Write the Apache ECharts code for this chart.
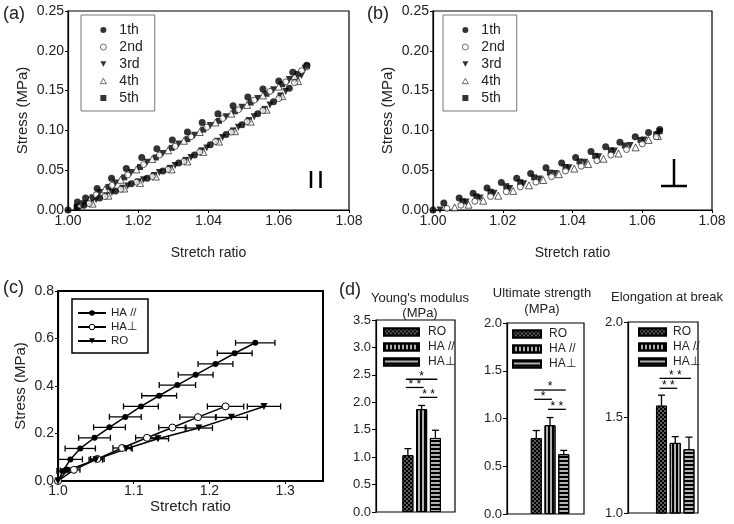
<!DOCTYPE html>
<html><head><meta charset="utf-8">
<script src="https://cdn.jsdelivr.net/npm/echarts@6/dist/echarts.min.js"></script>
<style>html,body{margin:0;padding:0;background:#fff}#c{width:734px;height:524px}</style>
</head><body><div id="c"></div>
<script>
// ---------- Panel (a): parallel direction, 5 cycles ----------
const a1th = [[1.000,0.000],[1.0027,0.010],[1.005,0.015],[1.0083,0.027],[1.0124,0.040],[1.0166,0.052],[1.021,0.066],[1.0253,0.077],[1.0297,0.088],[1.034,0.098],[1.0382,0.110],[1.0427,0.121],[1.047,0.131],[1.0512,0.142],[1.0555,0.152],[1.060,0.162],[1.064,0.173],[1.068,0.182],
  [1.0045,0.006],[1.009,0.015],[1.0135,0.024],[1.018,0.033],[1.0225,0.040],[1.027,0.049],[1.0315,0.059],[1.036,0.069],[1.0405,0.082],[1.045,0.095],[1.0495,0.107],[1.054,0.121],[1.0585,0.136],[1.063,0.153]];
const a2nd = [[1.0035,0.006],[1.008,0.019],[1.0125,0.031],[1.017,0.044],[1.0215,0.057],[1.026,0.069],[1.0305,0.080],[1.035,0.092],[1.0395,0.104],[1.044,0.115],[1.0485,0.126],[1.053,0.138],[1.0575,0.149],[1.062,0.161],[1.0665,0.175],
  [1.006,0.008],[1.0105,0.017],[1.015,0.026],[1.0195,0.035],[1.024,0.042],[1.0285,0.051],[1.033,0.061],[1.0375,0.073],[1.042,0.086],[1.0465,0.098],[1.051,0.111],[1.0555,0.125],[1.060,0.140],[1.0645,0.160],[1.068,0.180]];
const a3rd = [[1.0045,0.008],[1.009,0.022],[1.0135,0.034],[1.018,0.047],[1.0225,0.060],[1.027,0.071],[1.0315,0.083],[1.036,0.094],[1.0405,0.106],[1.045,0.117],[1.0495,0.129],[1.054,0.140],[1.0585,0.151],[1.063,0.164],[1.0675,0.178],
  [1.0035,0.004],[1.008,0.013],[1.0125,0.022],[1.017,0.030],[1.0215,0.038],[1.026,0.047],[1.0305,0.056],[1.035,0.066],[1.0395,0.078],[1.044,0.091],[1.0485,0.104],[1.053,0.117],[1.0575,0.132],[1.062,0.149],[1.0665,0.169]];
const a4th = [[1.006,0.013],[1.0105,0.026],[1.015,0.038],[1.0195,0.051],[1.024,0.064],[1.0285,0.075],[1.033,0.087],[1.0375,0.098],[1.042,0.110],[1.0465,0.121],[1.051,0.132],[1.0555,0.144],[1.060,0.155],[1.0645,0.168],
  [1.007,0.008],[1.0115,0.018],[1.016,0.027],[1.0205,0.034],[1.025,0.042],[1.0295,0.051],[1.034,0.061],[1.0385,0.073],[1.043,0.086],[1.0475,0.099],[1.052,0.111],[1.0565,0.126],[1.061,0.143],[1.0655,0.162]];
const a5th = [[1.0025,0.004],[1.007,0.016],[1.0115,0.029],[1.016,0.041],[1.0205,0.054],[1.025,0.066],[1.0295,0.078],[1.034,0.089],[1.0385,0.101],[1.043,0.112],[1.0475,0.124],[1.052,0.135],[1.0565,0.146],[1.061,0.158],[1.0655,0.171],[1.068,0.181],
  [1.0025,0.003],[1.0065,0.009],[1.011,0.019],[1.0155,0.028],[1.020,0.036],[1.0245,0.044],[1.029,0.053],[1.0335,0.063],[1.038,0.075],[1.0425,0.087],[1.047,0.100],[1.0515,0.113],[1.056,0.127],[1.0605,0.144],[1.065,0.163]];

// ---------- Panel (b): perpendicular direction, 5 cycles ----------
const b1th = [[1.000,0.000],[1.0031,0.0088],[1.0075,0.015],[1.0115,0.021],[1.0155,0.0276],[1.0196,0.0347],[1.024,0.040],[1.028,0.046],[1.0324,0.053],[1.0369,0.059],[1.0409,0.066],[1.0453,0.0736],[1.0495,0.0795],[1.0536,0.085],[1.058,0.092],[1.0618,0.0975],[1.065,0.101]];
const b2nd = [[1.004,0.002],[1.008,0.006],[1.012,0.011],[1.0165,0.017],[1.021,0.023],[1.025,0.029],[1.0295,0.035],[1.034,0.042],[1.038,0.049],[1.0425,0.055],[1.047,0.062],[1.051,0.069],[1.0555,0.076],[1.060,0.083],[1.064,0.092]];
const b3rd = [[1.002,0.000],[1.0095,0.010],[1.0135,0.015],[1.0175,0.021],[1.022,0.027],[1.026,0.033],[1.0305,0.039],[1.035,0.046],[1.039,0.053],[1.0435,0.060],[1.0475,0.067],[1.052,0.074],[1.0565,0.081],[1.0605,0.088],[1.0645,0.095]];
const b4th = [[1.0062,0.0033],[1.0102,0.0067],[1.0144,0.0117],[1.0187,0.018],[1.023,0.024],[1.0275,0.031],[1.0316,0.0377],[1.0361,0.045],[1.0405,0.052],[1.0445,0.0577],[1.0489,0.0644],[1.0532,0.071],[1.0581,0.0787],[1.0618,0.088],[1.0645,0.093]];
const b5th = [[1.0085,0.011],[1.0125,0.017],[1.0165,0.023],[1.021,0.030],[1.025,0.035],[1.029,0.041],[1.0335,0.047],[1.038,0.054],[1.042,0.061],[1.0465,0.068],[1.051,0.075],[1.055,0.081],[1.0595,0.088],[1.064,0.095],[1.065,0.099]];
const cycleNames = ['1th','2nd','3rd','4th','5th'];

// ---------- Panel (c): stress-stretch curves with x error ----------
const cNames = ['HA //','HA\u22A5','RO'];
const cHAparX   = [1.000,1.0066,1.0163,1.0294,1.0482,1.068,1.0889,1.1095,1.1336,1.1577,1.1818,1.208,1.2334,1.2605];
const cHAparY   = [0.000,0.042,0.091,0.137,0.182,0.226,0.270,0.314,0.359,0.404,0.447,0.493,0.538,0.582];
const cHAparErr = [0,0.008,0.016,0.020,0.021,0.021,0.021,0.023,0.023,0.024,0.023,0.023,0.023,0.026];
const cHAperpX   = [1.000,1.021,1.052,1.0846,1.1175,1.1511,1.1849,1.2213];
const cHAperpY   = [0.000,0.047,0.093,0.139,0.182,0.225,0.269,0.314];
const cHAperpErr = [0,0.008,0.009,0.012,0.015,0.018,0.024,0.024];
const cROX   = [1.000,1.012,1.050,1.090,1.132,1.186,1.229,1.272];
const cROY   = [0.000,0.044,0.090,0.136,0.178,0.223,0.268,0.314];
const cROErr = [0,0.009,0.009,0.008,0.014,0.018,0.021,0.022];

// ---------- Panel (d): bar charts ----------
const dGroups = ['RO','HA //','HA\u22A5'];
const dTitles = ["Young's modulus\n(MPa)", 'Ultimate strength\n(MPa)', 'Elongation at break'];
const dYoung = [1.035,1.875,1.35];
const dYoungErr = [0.12,0.067,0.14];
const dStrength = [0.794,0.93,0.626];
const dStrengthErr = [0.08,0.08,0.04];
const dElong = [1.562,1.367,1.334];
const dElongErr = [0.055,0.033,0.063];
const dYoungSig = [[0,2,2.42,'*'],[0,1,2.27,'* *'],[1,2,2.09,'* *']];
const dStrengthSig = [[0,2,1.298,'*'],[0,1,1.201,'*'],[1,2,1.096,'* *']];
const dElongSig = [[0,2,1.705,'* *'],[0,1,1.653,'* *']];
const dYTicks = [[0,3.5,0.5],[0,2,0.5],[1,2,0.5]];

// ================= build =================
const FONT = "'Liberation Sans', Arial, sans-serif";
const TXT = '#222';
const chart = echarts.init(document.getElementById('c'));

const grids = [
  {left:68, top:11, width:281, height:199},   // a
  {left:433, top:11, width:279, height:199},  // b
  {left:58, top:291, width:265, height:190},  // c
  {left:376, top:320, width:79, height:192},  // d1 box
  {left:401, top:320, width:41.25, height:192}, // d1 bars
  {left:507, top:323, width:77, height:191},  // d2 box
  {left:529.4, top:323, width:41.25, height:191},
  {left:628, top:322, width:70, height:191},  // d3 box
  {left:654.6, top:322, width:41.25, height:191}
].map((g,i)=>Object.assign({show: [0,1,2,3,5,7].includes(i), borderColor:'#000', borderWidth: i===2?2:1.2, backgroundColor:'transparent'}, g));

function vAxis(gi, min, max, interval, dec, opts) {
  return Object.assign({
    type:'value', gridIndex:gi, min, max, interval,
    axisLine:{show:true, onZero:false, lineStyle:{color:'#000', width:1.2}},
    axisTick:{show:true, inside:false, length:3, lineStyle:{color:'#000'}},
    axisLabel:{fontFamily:FONT, fontSize:14, color:TXT, margin:4, formatter:v=>v.toFixed(dec)},
    splitLine:{show:false},
    nameTextStyle:{fontFamily:FONT, fontSize:14, color:TXT}
  }, opts||{});
}

const xAxes = [
  vAxis(0,1.0,1.08,0.02,2,{name:'Stretch ratio', nameLocation:'middle', nameGap:36}),
  vAxis(1,1.0,1.08,0.02,2,{name:'Stretch ratio', nameLocation:'middle', nameGap:36}),
  vAxis(2,1.0,1.35,0.1,1,{name:'Stretch ratio', nameLocation:'middle', nameGap:18, axisLabel:{fontFamily:FONT,fontSize:14,color:TXT,margin:3,showMaxLabel:false,formatter:v=>v.toFixed(1)}, nameTextStyle:{fontFamily:FONT,fontSize:15,color:TXT}}),
  {type:'value', gridIndex:3, show:false, min:0, max:1},
  {type:'category', gridIndex:4, show:false, data:dGroups},
  {type:'value', gridIndex:5, show:false, min:0, max:1},
  {type:'category', gridIndex:6, show:false, data:dGroups},
  {type:'value', gridIndex:7, show:false, min:0, max:1},
  {type:'category', gridIndex:8, show:false, data:dGroups}
];
const yName = {name:'Stress (MPa)', nameLocation:'middle', nameGap:38, nameTextStyle:{fontFamily:FONT,fontSize:15,color:TXT}};
const yAxes = [
  vAxis(0,0,0.25,0.05,2,yName),
  vAxis(1,0,0.25,0.05,2,yName),
  vAxis(2,0,0.8,0.2,1,{name:'Stress (MPa)', nameLocation:'middle', nameGap:30, nameTextStyle:{fontFamily:FONT,fontSize:15,color:TXT}}),
];
[3,5,7].forEach((gi,k)=>{
  const t = dYTicks[k];
  yAxes.push(vAxis(gi,t[0],t[1],t[2],1,{axisLabel:{fontFamily:FONT,fontSize:13,color:TXT,margin:5,formatter:v=>v.toFixed(1)}, axisTick:{show:true,length:4,lineStyle:{color:'#000'}}}));
  yAxes.push({type:'value', gridIndex:gi+1, show:false, min:t[0], max:t[1], interval:t[2]});
});

const series = [];
const cycStyles = [
  {symbol:'circle', symbolSize:7, itemStyle:{color:'#000'}},
  {symbol:'circle', symbolSize:6, itemStyle:{color:'#fff', borderColor:'#000', borderWidth:0.8}},
  {symbol:'triangle', symbolSize:7, symbolRotate:180, itemStyle:{color:'#000'}},
  {symbol:'triangle', symbolSize:7, itemStyle:{color:'#fff', borderColor:'#000', borderWidth:0.8}},
  {symbol:'rect', symbolSize:6, itemStyle:{color:'#000'}}
];
[[a1th,a2nd,a3rd,a4th,a5th],[b1th,b2nd,b3rd,b4th,b5th]].forEach((sets,gi)=>{
  sets.forEach((d,k)=>{
    series.push(Object.assign({type:'scatter', name:cycleNames[k], xAxisIndex:gi, yAxisIndex:gi, data:d, clip:false, z:5-k}, cycStyles[k]));
  });
});

// panel c lines
const cSets = [[cHAparX,cHAparY,cHAparErr],[cHAperpX,cHAperpY,cHAperpErr],[cROX,cROY,cROErr]];
const cSym = [
  {symbol:'circle', symbolSize:6, itemStyle:{color:'#000'}},
  {symbol:'circle', symbolSize:7, itemStyle:{color:'#fff', borderColor:'#000', borderWidth:1}},
  {symbol:'triangle', symbolSize:7, symbolRotate:180, itemStyle:{color:'#000'}}
];
cSets.forEach((s,k)=>{
  series.push(Object.assign({type:'line', name:cNames[k], xAxisIndex:2, yAxisIndex:2, showSymbol:true,
    data:s[0].map((x,i)=>[x,s[1][i]]), lineStyle:{color:'#000', width:1.5}, clip:false, z:4}, cSym[k]));
  series.push({type:'custom', name:'err'+k, xAxisIndex:2, yAxisIndex:2, z:3, clip:false,
    data:s[0].map((x,i)=>[x,s[1][i],s[2][i]]), encode:{x:0,y:1},
    renderItem:(p,api)=>{
      const x=api.value(0), y=api.value(1), e=api.value(2);
      if(!e) return {type:'group', children:[]};
      const l=api.coord([x-e,y]), r=api.coord([x+e,y]);
      const st={stroke:'#000', lineWidth:1.3};
      return {type:'group', children:[
        {type:'line', shape:{x1:l[0],y1:l[1],x2:r[0],y2:r[1]}, style:st},
        {type:'line', shape:{x1:l[0],y1:l[1]-3,x2:l[0],y2:l[1]+3}, style:st},
        {type:'line', shape:{x1:r[0],y1:r[1]-3,x2:r[0],y2:r[1]+3}, style:st}
      ]};
    }});
});

// panel d bars
const fills = ['#000','#b0b0b0','#b0b0b0'];
const decals = [
  {symbol:'circle', symbolSize:0.7, color:'#fff', dashArrayX:[[2,2],[0,2,2,0]], dashArrayY:[2,0]},
  {symbol:'rect', symbolSize:1, color:'#000', dashArrayX:[1.2,1.8], dashArrayY:[10,0]},
  {symbol:'rect', symbolSize:1, color:'#000', dashArrayX:[10,0], dashArrayY:[1.2,1.8]}
];
const dVals = [[dYoung,dYoungErr,dYoungSig],[dStrength,dStrengthErr,dStrengthSig],[dElong,dElongErr,dElongSig]];
const legends = [];
dVals.forEach((dv,p)=>{
  const ax = 4+2*p;
  dGroups.forEach((g,k)=>{
    series.push({type:'bar', name:g+'|'+p, xAxisIndex:ax, yAxisIndex:ax, barWidth:11, barGap:'-100%',
      data:dv[0].map((v,i)=> i===k ? v : '-'),
      itemStyle:{color:fills[k], borderColor:'#000', borderWidth:1, decal:decals[k]}});
  });
  series.push({type:'custom', name:'derr'+p, xAxisIndex:ax, yAxisIndex:ax, z:6, clip:false,
    data:dv[0].map((v,i)=>[i,v,dv[1][i]]), encode:{x:0,y:1},
    renderItem:(pp,api)=>{
      const i=api.value(0), v=api.value(1), e=api.value(2);
      const a=api.coord([i,v]), b=api.coord([i,v+e]);
      const st={stroke:'#000', lineWidth:1.3};
      return {type:'group', children:[
        {type:'line', shape:{x1:a[0],y1:a[1],x2:b[0],y2:b[1]}, style:st},
        {type:'line', shape:{x1:b[0]-3.5,y1:b[1],x2:b[0]+3.5,y2:b[1]}, style:st}
      ]};
    }});
  series.push({type:'custom', name:'dsig'+p, xAxisIndex:ax, yAxisIndex:ax, z:6, clip:false,
    data:dv[2], encode:{x:[0,1],y:2},
    renderItem:(pp,api)=>{
      const i1=api.value(0), i2=api.value(1), lv=api.value(2);
      const txt = dv[2][pp.dataIndex][3];
      const a=api.coord([i1,lv]), b=api.coord([i2,lv]);
      return {type:'group', children:[
        {type:'line', shape:{x1:a[0]-2,y1:a[1],x2:b[0]+2,y2:b[1]}, style:{stroke:'#000', lineWidth:1.3}},
        {type:'text', x:(a[0]+b[0])/2, y:a[1]+3, style:{text:txt, textAlign:'center', textVerticalAlign:'bottom', font:'12px '+FONT, fill:'#000'}}
      ]};
    }});
});

const dLegPos = [[383,326,35,4],[512,328,28,3],[638,326,27,2]];
dLegPos.forEach((lp,p)=>{
  legends.push({left:lp[0], top:lp[1], orient:'vertical', icon:'rect', itemWidth:lp[2], itemHeight:7, itemGap:3,
    padding:0, selectedMode:false, data:dGroups.map(g=>g+'|'+p), formatter:n=>n.split('|')[0],
    textStyle:{fontFamily:FONT, fontSize:12, color:TXT, padding:[0,0,0,lp[3]]}});
});
const cycLegendData = [{name:'1th',icon:'circle'},{name:'2nd',icon:'circle'},{name:'3rd',icon:'path://M0,0L10,0L5,9Z'},{name:'4th',icon:'path://M5,0L10,9L0,9Z'},{name:'5th',icon:'rect'}];
[81,443].forEach(l=>{
  legends.push({left:l, top:15, orient:'vertical', itemWidth:6, itemHeight:6, itemGap:3,
    padding:[8,12,6,19], borderColor:'#777', borderWidth:1, selectedMode:false, data:cycLegendData,
    itemStyle:{borderWidth:0.7},
    textStyle:{fontFamily:FONT, fontSize:14, color:TXT, padding:[0,0,0,8]}});
});
legends.push({left:72, top:299, orient:'vertical', itemWidth:28, itemHeight:7, itemGap:2,
  padding:[8,11,6,5], borderColor:'#000', borderWidth:1.5, selectedMode:false, data:cNames,
  itemStyle:{borderWidth:1},
  textStyle:{fontFamily:FONT, fontSize:11.5, color:TXT}});

const gtext = (t,x,y,size,align,lh)=>({type:'text', x, y, style:{text:t, font:size+'px '+FONT, fill:TXT, textAlign:align||'left', textVerticalAlign:'top', lineHeight:lh||size}});
const gline = (x1,y1,x2,y2)=>({type:'line', shape:{x1,y1,x2,y2}, style:{stroke:'#000', lineWidth:2.5}});
const graphic = [
  gtext('(a)',3,5,18), gtext('(b)',367,5,18), gtext('(c)',3,279,18), gtext('(d)',339,281,18),
  gtext(dTitles[0],420,291,13,'center',15), gtext(dTitles[1],542,285,13,'center',16), gtext(dTitles[2],667,291,13,'center'),
  gline(311,171,311,188), gline(320.5,171,320.5,188),
  gline(674,159,674,186), gline(661,186,687,186)
];

chart.setOption({animation:false, grid:grids, xAxis:xAxes, yAxis:yAxes, series, legend:legends, graphic});
</script></body></html>
